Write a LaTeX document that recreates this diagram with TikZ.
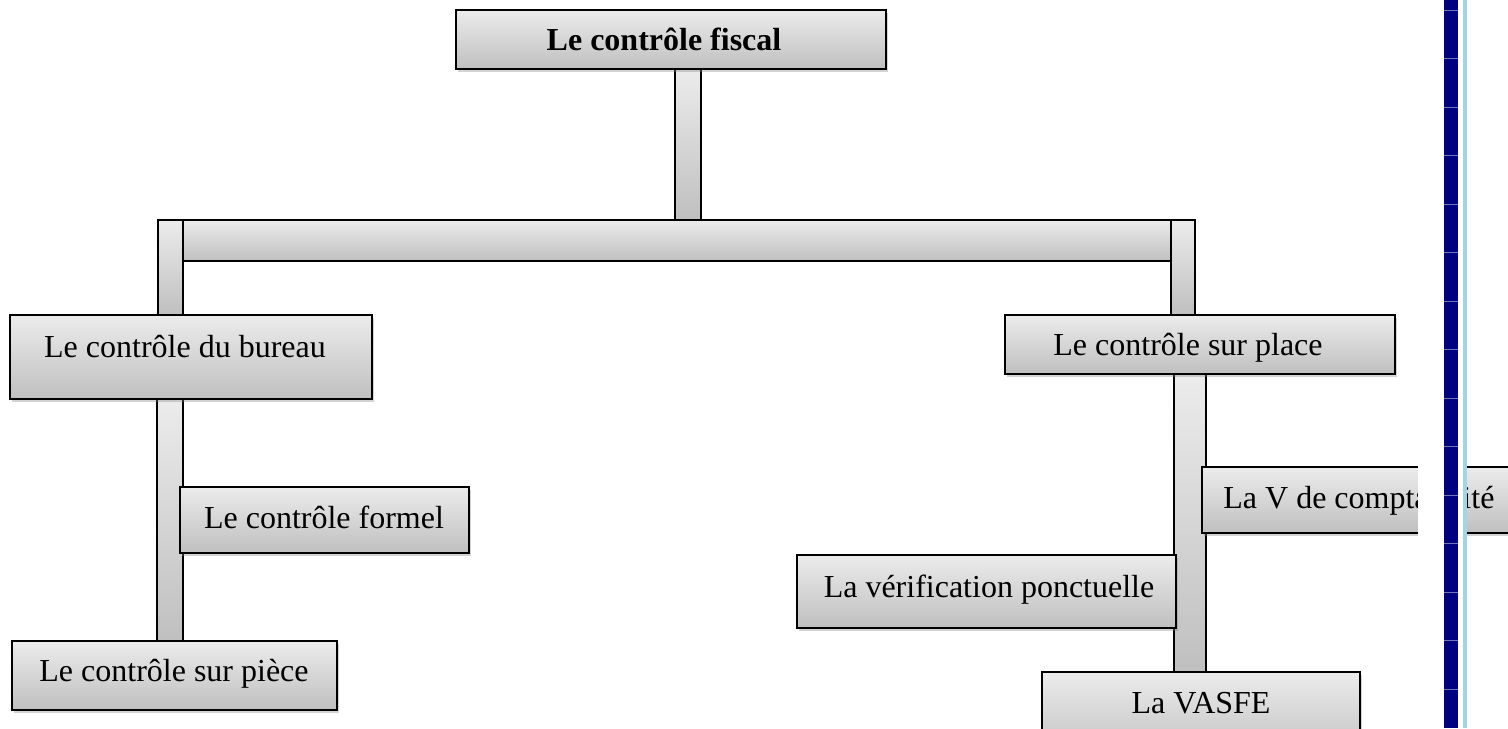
\documentclass[tikz,border=0pt]{standalone}
\usepackage{fontspec}
\setmainfont{Liberation Serif}
\usetikzlibrary{shadows,fit}
\definecolor{navybar}{RGB}{0,0,128}
\definecolor{lightline}{RGB}{160,214,230}
\begin{document}
\begin{tikzpicture}[x=0.5pt,y=-0.5pt,
  box/.style={draw=black,line width=1pt,top color=gray!15,bottom color=gray!50,inner sep=0pt,outer sep=0pt,
    drop shadow={shadow xshift=1.2pt,shadow yshift=-1.6pt,opacity=0.35}},
  bar/.style={draw=black,line width=1pt,top color=gray!15,bottom color=gray!50,inner sep=0pt,outer sep=0pt},
  lbl/.style={font=\fontsize{16pt}{19pt}\selectfont,inner sep=0pt,anchor=base},
]
\useasboundingbox (0,0) rectangle (1508,728);
\clip (0,0) rectangle (1508,728);

% connector bars
\node[bar,fit={(158,220) (1195,261)}] (hbar) {};
\node[bar,fit={(675,69) (701,220)}] (v0) {};
\node[bar,fit={(158,220) (183,315)}] (vL1) {};
\node[bar,fit={(1171,220) (1195,315)}] (vR1) {};
\node[bar,fit={(157,399) (183,641)}] (vL2) {};
\node[bar,fit={(1174,374) (1206,672)}] (vR2) {};

% boxes
\node[box,fit={(456,10) (886,69)}] (fiscal) {};
\node[box,fit={(10,315) (372,399)}] (bureau) {};
\node[box,fit={(1005,315) (1395,374)}] (place) {};
\node[box,fit={(180,487) (469,553)}] (formel) {};
\node[box,fit={(12,641) (337,710)}] (piece) {};
\node[box,fit={(797,555) (1176,628)}] (verif) {};
\node[box,fit={(1202,467) (1540,533)}] (compta) {};
\node[box,fit={(1042,672) (1360,760)}] (vasfe) {};

% labels
\node[lbl,font=\fontsize{16pt}{19pt}\selectfont\bfseries] (tfiscal) at (664,50) {Le contrôle fiscal};
\node[lbl] (tbureau) at (185,357) {Le contrôle du bureau};
\node[lbl] (tplace) at (1188,355) {Le contrôle sur place};
\node[lbl] (tformel) at (324,528) {Le contrôle formel};
\node[lbl] (tpiece) at (174,681) {Le contrôle sur pièce};
\node[lbl] (tverif) at (989,597) {La vérification ponctuelle};
\node[lbl,anchor=base west] (tcompta) at (1223,508) {La V de comptabilité};
\node[lbl] (tvasfe) at (1201,713) {La VASFE};

% page-edge bars on the right
\fill[white] (1418,460) rectangle (1463,545);
\fill[navybar] (1444,0) rectangle (1458,728);
\fill[lightline] (1463,0) rectangle (1467,728);
\foreach \yy in {10,58.5,107,155.5,204,252.5,301,349.5,398,446.5,495,543.5,592,640.5,689}
  \draw[navybar!55!white,line width=0.4pt] (1444,\yy) -- (1458,\yy);
\end{tikzpicture}
\end{document}
